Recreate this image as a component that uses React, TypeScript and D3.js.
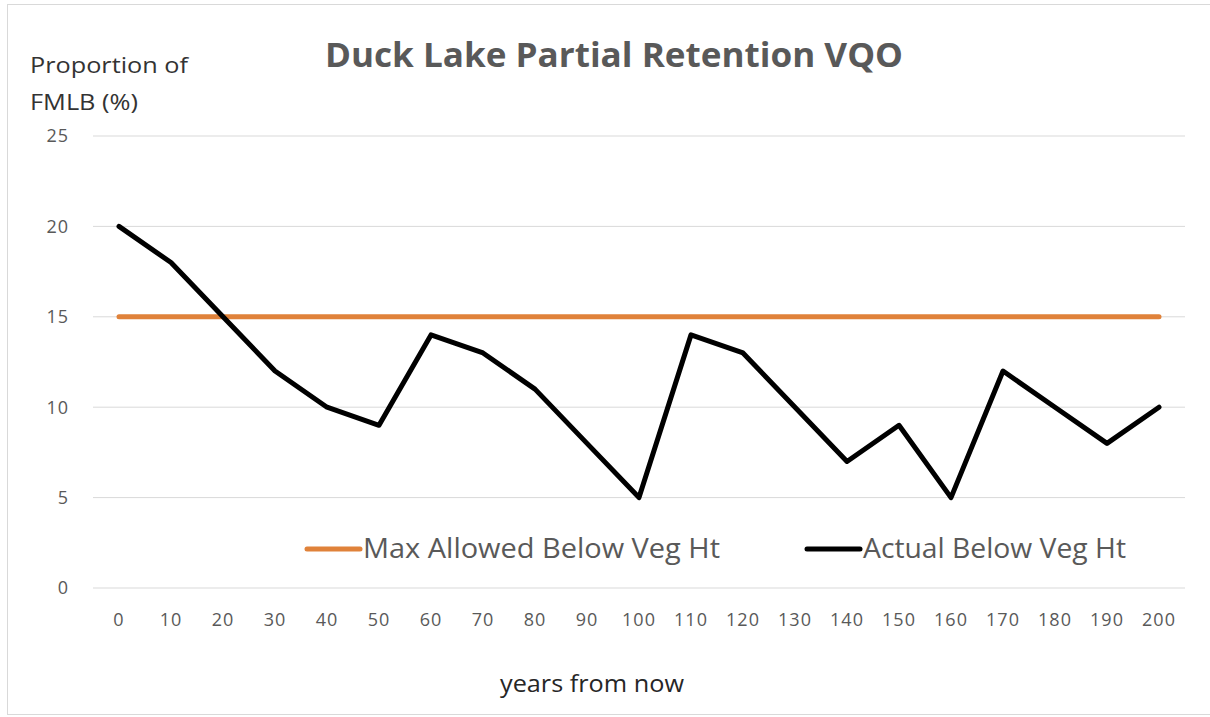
import React, { useEffect, useRef } from "react";
import * as d3 from "d3";

const years = ["0", "10", "20", "30", "40", "50", "60", "70", "80", "90", "100", "110", "120", "130", "140", "150", "160", "170", "180", "190", "200"];
const maxAllowed = [15, 15, 15, 15, 15, 15, 15, 15, 15, 15, 15, 15, 15, 15, 15, 15, 15, 15, 15, 15, 15];
const actual = [20, 18, 15, 12, 10, 9, 14, 13, 11, 8, 5, 14, 13, 10, 7, 9, 5, 12, 10, 8, 10];
const yTicks = [0, 5, 10, 15, 20, 25];

const W = 1210;
const H = 717;
const font = "Open Sans, Noto Sans, sans-serif";

export default function App() {
  const ref = useRef<SVGSVGElement | null>(null);

  useEffect(() => {
    document.body.style.margin = "0";
    const svg = d3.select(ref.current);
    svg.selectAll("*").remove();

    svg.append("rect")
      .attr("x", 7.5).attr("y", 4.5)
      .attr("width", W).attr("height", 710)
      .attr("fill", "#fff").attr("stroke", "#d9d9d9");

    const x = d3.scaleBand().domain(years).range([93, 1185]);
    const y = d3.scaleLinear().domain([0, 25]).range([588, 136]);
    const cx = (d: string) => (x(d) as number) + x.bandwidth() / 2;

    // gridlines
    svg.append("g")
      .selectAll("line")
      .data(yTicks)
      .join("line")
      .attr("x1", 93).attr("x2", 1185)
      .attr("y1", (d) => y(d)).attr("y2", (d) => y(d))
      .attr("stroke", "#d9d9d9").attr("stroke-width", 1);

    // y tick labels
    svg.append("g")
      .selectAll("text")
      .data(yTicks)
      .join("text")
      .attr("x", 69).attr("y", (d) => y(d))
      .attr("dy", "0.35em")
      .attr("text-anchor", "end")
      .attr("font-family", font).attr("font-size", 18)
      .attr("letter-spacing", 1)
      .attr("fill", "#595959")
      .text((d) => d);

    // x tick labels
    svg.append("g")
      .selectAll("text")
      .data(years)
      .join("text")
      .attr("x", (d) => cx(d)).attr("y", 620)
      .attr("dy", "0.35em")
      .attr("text-anchor", "middle")
      .attr("font-family", font).attr("font-size", 18)
      .attr("letter-spacing", 1)
      .attr("fill", "#595959")
      .text((d) => d);

    const line = d3.line<number>()
      .x((_, i) => cx(years[i]))
      .y((d) => y(d));

    svg.append("path")
      .datum(maxAllowed)
      .attr("d", line)
      .attr("fill", "none")
      .attr("stroke", "#e0823a").attr("stroke-width", 5)
      .attr("stroke-linecap", "round");

    svg.append("path")
      .datum(actual)
      .attr("d", line)
      .attr("fill", "none")
      .attr("stroke", "#000").attr("stroke-width", 5)
      .attr("stroke-linecap", "round").attr("stroke-linejoin", "round");

    // title
    svg.append("text")
      .attr("x", 325).attr("y", 67)
      .attr("font-family", font).attr("font-size", 34).attr("font-weight", 700)
      .attr("textLength", 578).attr("lengthAdjust", "spacingAndGlyphs")
      .attr("fill", "#595959")
      .text("Duck Lake Partial Retention VQO");

    // axis titles
    svg.append("text")
      .attr("x", 30).attr("y", 73)
      .attr("font-family", font).attr("font-size", 22)
      .attr("textLength", 158).attr("lengthAdjust", "spacingAndGlyphs")
      .attr("fill", "#333")
      .text("Proportion of");
    svg.append("text")
      .attr("x", 30).attr("y", 110)
      .attr("font-family", font).attr("font-size", 22)
      .attr("textLength", 108).attr("lengthAdjust", "spacingAndGlyphs")
      .attr("fill", "#333")
      .text("FMLB (%)");

    svg.append("text")
      .attr("x", 500).attr("y", 692)
      .attr("font-family", font).attr("font-size", 23)
      .attr("textLength", 184).attr("lengthAdjust", "spacingAndGlyphs")
      .attr("fill", "#262626")
      .text("years from now");

    // legend
    const legend = [
      { name: "Max Allowed Below Veg Ht", color: "#e0823a", x: 305, len: 357 },
      { name: "Actual Below Veg Ht", color: "#000", x: 805, len: 263 },
    ];
    const lg = svg.append("g")
      .selectAll("g")
      .data(legend)
      .join("g")
      .attr("transform", (d) => `translate(${d.x},549)`);
    lg.append("line")
      .attr("x1", 2).attr("x2", 55)
      .attr("stroke", (d) => d.color).attr("stroke-width", 5)
      .attr("stroke-linecap", "round");
    lg.append("text")
      .attr("x", 58).attr("dy", "0.35em")
      .attr("font-family", font).attr("font-size", 27)
      .attr("textLength", (d) => d.len).attr("lengthAdjust", "spacingAndGlyphs")
      .attr("fill", "#595959")
      .text((d) => d.name);
  }, []);

  return <svg ref={ref} width={W} height={H} style={{ display: "block" }} />;
}
